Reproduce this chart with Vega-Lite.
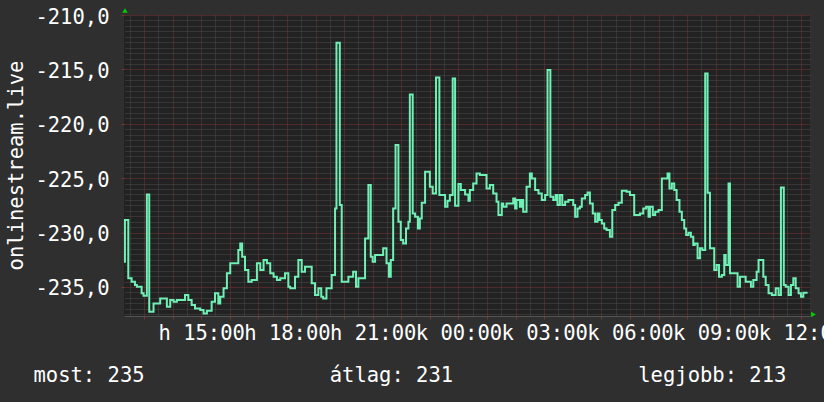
{
"$schema": "https://vega.github.io/schema/vega-lite/v6.json",
"width": 686, "height": 301,
"autosize": "none",
"padding": {"left": 124, "top": 15, "right": 14, "bottom": 86},
"background": "#2f2f2f",
"config": {"view": {"fill": "#222222", "stroke": null}, "font": "DejaVu Sans Mono"},
"datasets": {"d": [
{"t":"2024-01-01T12:18:00Z","v":-232.68},{"t":"2024-01-01T12:20:00Z","v":-228.85},{"t":"2024-01-01T12:27:00Z","v":-234.21},{"t":"2024-01-01T12:34:00Z","v":-234.52},{"t":"2024-01-01T12:41:00Z","v":-234.83},{"t":"2024-01-01T12:45:00Z","v":-234.98},{"t":"2024-01-01T12:55:00Z","v":-235.59},{"t":"2024-01-01T12:59:00Z","v":-235.81},{"t":"2024-01-01T13:06:00Z","v":-226.49},{"t":"2024-01-01T13:11:00Z","v":-237.28},{"t":"2024-01-01T13:20:00Z","v":-236.51},{"t":"2024-01-01T13:34:00Z","v":-236.05},{"t":"2024-01-01T13:48:00Z","v":-236.82},{"t":"2024-01-01T13:55:00Z","v":-236.20},{"t":"2024-01-01T14:02:00Z","v":-236.36},{"t":"2024-01-01T14:09:00Z","v":-236.20},{"t":"2024-01-01T14:26:00Z","v":-235.75},{"t":"2024-01-01T14:33:00Z","v":-236.20},{"t":"2024-01-01T14:40:00Z","v":-236.66},{"t":"2024-01-01T14:47:00Z","v":-236.97},{"t":"2024-01-01T14:58:00Z","v":-237.12},{"t":"2024-01-01T15:05:00Z","v":-237.43},{"t":"2024-01-01T15:12:00Z","v":-237.18},{"t":"2024-01-01T15:22:00Z","v":-236.36},{"t":"2024-01-01T15:29:00Z","v":-235.59},{"t":"2024-01-01T15:36:00Z","v":-236.51},{"t":"2024-01-01T15:40:00Z","v":-235.90},{"t":"2024-01-01T15:47:00Z","v":-235.13},{"t":"2024-01-01T15:54:00Z","v":-233.75},{"t":"2024-01-01T16:01:00Z","v":-232.83},{"t":"2024-01-01T16:18:00Z","v":-231.61},{"t":"2024-01-01T16:22:00Z","v":-231.00},{"t":"2024-01-01T16:26:00Z","v":-232.22},{"t":"2024-01-01T16:32:00Z","v":-233.45},{"t":"2024-01-01T16:39:00Z","v":-234.52},{"t":"2024-01-01T16:46:00Z","v":-234.37},{"t":"2024-01-01T16:57:00Z","v":-232.83},{"t":"2024-01-01T17:04:00Z","v":-233.45},{"t":"2024-01-01T17:11:00Z","v":-232.53},{"t":"2024-01-01T17:18:00Z","v":-232.83},{"t":"2024-01-01T17:25:00Z","v":-233.75},{"t":"2024-01-01T17:32:00Z","v":-234.06},{"t":"2024-01-01T17:39:00Z","v":-234.37},{"t":"2024-01-01T17:46:00Z","v":-234.21},{"t":"2024-01-01T17:56:00Z","v":-233.75},{"t":"2024-01-01T18:03:00Z","v":-234.98},{"t":"2024-01-01T18:07:00Z","v":-235.13},{"t":"2024-01-01T18:17:00Z","v":-234.06},{"t":"2024-01-01T18:24:00Z","v":-232.53},{"t":"2024-01-01T18:31:00Z","v":-233.60},{"t":"2024-01-01T18:38:00Z","v":-233.14},{"t":"2024-01-01T18:52:00Z","v":-234.67},{"t":"2024-01-01T18:59:00Z","v":-235.75},{"t":"2024-01-01T19:06:00Z","v":-235.13},{"t":"2024-01-01T19:12:00Z","v":-235.90},{"t":"2024-01-01T19:16:00Z","v":-236.05},{"t":"2024-01-01T19:23:00Z","v":-235.13},{"t":"2024-01-01T19:34:00Z","v":-233.91},{"t":"2024-01-01T19:41:00Z","v":-227.78},{"t":"2024-01-01T19:44:00Z","v":-212.55},{"t":"2024-01-01T19:51:00Z","v":-227.47},{"t":"2024-01-01T19:55:00Z","v":-234.52},{"t":"2024-01-01T20:09:00Z","v":-234.06},{"t":"2024-01-01T20:19:00Z","v":-233.60},{"t":"2024-01-01T20:25:00Z","v":-234.98},{"t":"2024-01-01T20:30:00Z","v":-234.21},{"t":"2024-01-01T20:44:00Z","v":-230.54},{"t":"2024-01-01T20:51:00Z","v":-225.63},{"t":"2024-01-01T20:56:00Z","v":-232.22},{"t":"2024-01-01T21:00:00Z","v":-232.68},{"t":"2024-01-01T21:05:00Z","v":-232.07},{"t":"2024-01-01T21:22:00Z","v":-231.45},{"t":"2024-01-01T21:29:00Z","v":-232.83},{"t":"2024-01-01T21:34:00Z","v":-234.06},{"t":"2024-01-01T21:38:00Z","v":-232.53},{"t":"2024-01-01T21:43:00Z","v":-227.78},{"t":"2024-01-01T21:48:00Z","v":-221.96},{"t":"2024-01-01T21:54:00Z","v":-229.00},{"t":"2024-01-01T21:59:00Z","v":-230.69},{"t":"2024-01-01T22:04:00Z","v":-231.00},{"t":"2024-01-01T22:10:00Z","v":-229.62},{"t":"2024-01-01T22:15:00Z","v":-229.00},{"t":"2024-01-01T22:18:00Z","v":-217.30},{"t":"2024-01-01T22:24:00Z","v":-228.24},{"t":"2024-01-01T22:29:00Z","v":-228.55},{"t":"2024-01-01T22:35:00Z","v":-229.62},{"t":"2024-01-01T22:39:00Z","v":-228.70},{"t":"2024-01-01T22:43:00Z","v":-227.26},{"t":"2024-01-01T22:50:00Z","v":-224.41},{"t":"2024-01-01T23:00:00Z","v":-225.79},{"t":"2024-01-01T23:06:00Z","v":-226.40},{"t":"2024-01-01T23:13:00Z","v":-215.74},{"t":"2024-01-01T23:20:00Z","v":-226.55},{"t":"2024-01-01T23:32:00Z","v":-227.63},{"t":"2024-01-01T23:37:00Z","v":-227.07},{"t":"2024-01-01T23:42:00Z","v":-226.55},{"t":"2024-01-01T23:48:00Z","v":-215.83},{"t":"2024-01-01T23:53:00Z","v":-227.53},
{"t":"2024-01-02T00:00:00Z","v":-225.54},{"t":"2024-01-02T00:05:00Z","v":-226.09},{"t":"2024-01-02T00:14:00Z","v":-226.50},{"t":"2024-01-02T00:21:00Z","v":-227.07},{"t":"2024-01-02T00:24:00Z","v":-226.09},{"t":"2024-01-02T00:31:00Z","v":-225.48},{"t":"2024-01-02T00:38:00Z","v":-224.56},{"t":"2024-01-02T00:45:00Z","v":-224.70},{"t":"2024-01-02T00:59:00Z","v":-225.94},{"t":"2024-01-02T01:06:00Z","v":-225.63},{"t":"2024-01-02T01:13:00Z","v":-226.40},{"t":"2024-01-02T01:20:00Z","v":-227.17},{"t":"2024-01-02T01:24:00Z","v":-228.39},{"t":"2024-01-02T01:31:00Z","v":-227.32},{"t":"2024-01-02T01:34:00Z","v":-227.63},{"t":"2024-01-02T01:41:00Z","v":-227.32},{"t":"2024-01-02T01:55:00Z","v":-226.86},{"t":"2024-01-02T01:59:00Z","v":-227.78},{"t":"2024-01-02T02:02:00Z","v":-227.01},{"t":"2024-01-02T02:09:00Z","v":-227.63},{"t":"2024-01-02T02:13:00Z","v":-227.01},{"t":"2024-01-02T02:16:00Z","v":-228.09},{"t":"2024-01-02T02:23:00Z","v":-225.79},{"t":"2024-01-02T02:30:00Z","v":-224.56},{"t":"2024-01-02T02:34:00Z","v":-225.02},{"t":"2024-01-02T02:41:00Z","v":-226.09},{"t":"2024-01-02T02:48:00Z","v":-226.40},{"t":"2024-01-02T02:55:00Z","v":-227.01},{"t":"2024-01-02T03:02:00Z","v":-226.55},{"t":"2024-01-02T03:07:00Z","v":-215.06},{"t":"2024-01-02T03:13:00Z","v":-226.71},{"t":"2024-01-02T03:19:00Z","v":-227.01},{"t":"2024-01-02T03:24:00Z","v":-226.55},{"t":"2024-01-02T03:28:00Z","v":-227.47},{"t":"2024-01-02T03:33:00Z","v":-226.55},{"t":"2024-01-02T03:38:00Z","v":-227.47},{"t":"2024-01-02T03:44:00Z","v":-227.17},{"t":"2024-01-02T03:51:00Z","v":-227.01},{"t":"2024-01-02T04:01:00Z","v":-227.47},{"t":"2024-01-02T04:05:00Z","v":-228.55},{"t":"2024-01-02T04:10:00Z","v":-227.78},{"t":"2024-01-02T04:15:00Z","v":-227.63},{"t":"2024-01-02T04:19:00Z","v":-226.86},{"t":"2024-01-02T04:26:00Z","v":-226.55},{"t":"2024-01-02T04:31:00Z","v":-226.31},{"t":"2024-01-02T04:36:00Z","v":-227.32},{"t":"2024-01-02T04:42:00Z","v":-228.24},{"t":"2024-01-02T04:47:00Z","v":-229.00},{"t":"2024-01-02T04:52:00Z","v":-228.24},{"t":"2024-01-02T04:56:00Z","v":-228.85},{"t":"2024-01-02T05:01:00Z","v":-229.16},{"t":"2024-01-02T05:06:00Z","v":-229.62},{"t":"2024-01-02T05:11:00Z","v":-229.77},{"t":"2024-01-02T05:18:00Z","v":-230.38},{"t":"2024-01-02T05:23:00Z","v":-227.93},{"t":"2024-01-02T05:29:00Z","v":-227.47},{"t":"2024-01-02T05:36:00Z","v":-227.26},{"t":"2024-01-02T05:43:00Z","v":-226.16},{"t":"2024-01-02T05:53:00Z","v":-226.25},{"t":"2024-01-02T06:00:00Z","v":-226.55},{"t":"2024-01-02T06:09:00Z","v":-228.39},{"t":"2024-01-02T06:21:00Z","v":-228.24},{"t":"2024-01-02T06:28:00Z","v":-227.78},{"t":"2024-01-02T06:34:00Z","v":-227.63},{"t":"2024-01-02T06:39:00Z","v":-228.55},{"t":"2024-01-02T06:42:00Z","v":-227.63},{"t":"2024-01-02T06:48:00Z","v":-228.39},{"t":"2024-01-02T06:53:00Z","v":-228.09},{"t":"2024-01-02T07:00:00Z","v":-227.93},{"t":"2024-01-02T07:07:00Z","v":-225.02},{"t":"2024-01-02T07:19:00Z","v":-224.56},{"t":"2024-01-02T07:23:00Z","v":-225.94},{"t":"2024-01-02T07:28:00Z","v":-225.48},{"t":"2024-01-02T07:33:00Z","v":-226.09},{"t":"2024-01-02T07:38:00Z","v":-227.01},{"t":"2024-01-02T07:44:00Z","v":-228.09},{"t":"2024-01-02T07:49:00Z","v":-228.85},{"t":"2024-01-02T07:54:00Z","v":-229.62},{"t":"2024-01-02T07:58:00Z","v":-230.23},{"t":"2024-01-02T08:03:00Z","v":-230.02},{"t":"2024-01-02T08:08:00Z","v":-230.38},{"t":"2024-01-02T08:13:00Z","v":-231.15},{"t":"2024-01-02T08:16:00Z","v":-231.00},{"t":"2024-01-02T08:22:00Z","v":-232.37},{"t":"2024-01-02T08:27:00Z","v":-231.45},{"t":"2024-01-02T08:32:00Z","v":-231.61},{"t":"2024-01-02T08:38:00Z","v":-215.37},{"t":"2024-01-02T08:43:00Z","v":-226.34},{"t":"2024-01-02T08:48:00Z","v":-231.45},{"t":"2024-01-02T08:57:00Z","v":-233.45},{"t":"2024-01-02T09:02:00Z","v":-232.99},{"t":"2024-01-02T09:07:00Z","v":-234.06},{"t":"2024-01-02T09:13:00Z","v":-233.91},{"t":"2024-01-02T09:18:00Z","v":-232.07},{"t":"2024-01-02T09:21:00Z","v":-232.99},{"t":"2024-01-02T09:27:00Z","v":-225.48},{"t":"2024-01-02T09:30:00Z","v":-233.75},{"t":"2024-01-02T09:46:00Z","v":-234.98},{"t":"2024-01-02T09:51:00Z","v":-234.06},{"t":"2024-01-02T10:03:00Z","v":-234.52},{"t":"2024-01-02T10:14:00Z","v":-234.98},{"t":"2024-01-02T10:19:00Z","v":-234.37},{"t":"2024-01-02T10:26:00Z","v":-233.60},{"t":"2024-01-02T10:30:00Z","v":-232.53},{"t":"2024-01-02T10:40:00Z","v":-234.06},{"t":"2024-01-02T10:45:00Z","v":-234.83},{"t":"2024-01-02T10:51:00Z","v":-235.59},{"t":"2024-01-02T10:58:00Z","v":-235.75},{"t":"2024-01-02T11:06:00Z","v":-235.13},{"t":"2024-01-02T11:12:00Z","v":-235.75},{"t":"2024-01-02T11:17:00Z","v":-225.85},{"t":"2024-01-02T11:23:00Z","v":-234.83},{"t":"2024-01-02T11:27:00Z","v":-234.98},{"t":"2024-01-02T11:33:00Z","v":-235.75},{"t":"2024-01-02T11:38:00Z","v":-234.83},{"t":"2024-01-02T11:43:00Z","v":-234.21},{"t":"2024-01-02T11:48:00Z","v":-235.13},{"t":"2024-01-02T11:54:00Z","v":-235.59},{"t":"2024-01-02T11:59:00Z","v":-235.90},{"t":"2024-01-02T12:04:00Z","v":-235.53},{"t":"2024-01-02T12:13:00Z","v":-235.53}
]},
"resolve": {"axis": {"x": "independent", "y": "independent"}},
"layer": [
{
"data": {"name": "d"},
"mark": {"type": "line", "interpolate": "step-after", "strokeWidth": 2, "opacity": 0},
"encoding": {
"x": {"field": "t", "type": "temporal",
 "scale": {"type": "utc", "domain": [1704111480000, 1704197880000], "nice": false},
 "axis": {"orient": "top", "values": [1704112200000,1704115800000,1704119400000,1704123000000,1704126600000,1704130200000,1704133800000,1704137400000,1704141000000,1704144600000,1704148200000,1704151800000,1704155400000,1704159000000,1704162600000,1704166200000,1704169800000,1704173400000,1704177000000,1704180600000,1704184200000,1704187800000,1704191400000,1704195000000],
  "grid": true, "gridColor": "#4a4a4a", "gridDash": [1, 1], "gridWidth": 1,
  "ticks": false, "labels": false, "domain": false, "title": null}},
"y": {"field": "v", "type": "quantitative",
 "scale": {"domain": [-237.67, -210], "nice": false, "zero": false},
 "axis": {"orient": "right", "values": [-237.5,-237,-236.5,-236,-235.5,-234.5,-234,-233.5,-233,-232.5,-232,-231.5,-231,-230.5,-229.5,-229,-228.5,-228,-227.5,-227,-226.5,-226,-225.5,-224.5,-224,-223.5,-223,-222.5,-222,-221.5,-221,-220.5,-219.5,-219,-218.5,-218,-217.5,-217,-216.5,-216,-215.5,-214.5,-214,-213.5,-213,-212.5,-212,-211.5,-211,-210.5],
  "grid": true, "gridColor": "#4a4a4a", "gridDash": [1, 1], "gridWidth": 1,
  "ticks": false, "labels": false, "domain": false, "title": null}}
}
},
{
"data": {"name": "d"},
"mark": {"type": "line", "interpolate": "step-after", "strokeWidth": 2, "color": "#6ff0b4"},
"encoding": {
"x": {"field": "t", "type": "temporal",
 "axis": {"orient": "bottom",
  "values": [1704114000000,1704117600000,1704121200000,1704124800000,1704128400000,1704132000000,1704135600000,1704139200000,1704142800000,1704146400000,1704150000000,1704153600000,1704157200000,1704160800000,1704164400000,1704168000000,1704171600000,1704175200000,1704178800000,1704182400000,1704186000000,1704189600000,1704193200000,1704196800000],
  "grid": true, "gridColor": "#7a3434", "gridDash": [1, 1], "gridWidth": 1,
  "ticks": true, "tickSize": 3, "tickColor": "#7a3434",
  "domain": true, "domainColor": "#555555",
  "labelExpr": "utchours(datum.value) % 3 == 0 ? (utcdate(datum.value) == 1 ? 'h ' : 'k ') + utcFormat(datum.value, '%H:%M') : ''",
  "labelOverlap": false, "labelFlush": false, "labelBound": false, "labelAngle": 0,
  "labelBaseline": "top", "labelPadding": 4,
  "labelColor": "#ffffff", "labelFont": "DejaVu Sans Mono", "labelFontSize": 20.5,
  "title": "most: 235\u00a0\u00a0\u00a0\u00a0\u00a0\u00a0\u00a0\u00a0\u00a0\u00a0\u00a0\u00a0\u00a0\u00a0\u00a0átlag: 231\u00a0\u00a0\u00a0\u00a0\u00a0\u00a0\u00a0\u00a0\u00a0\u00a0\u00a0\u00a0\u00a0\u00a0\u00a0legjobb: 213",
  "titleX": -91, "titleY": 65, "titleAlign": "left", "titleBaseline": "alphabetic",
  "titleFont": "DejaVu Sans Mono", "titleFontSize": 20.5, "titleFontWeight": "normal", "titleColor": "#ffffff"
 }},
"y": {"field": "v", "type": "quantitative",
 "axis": {"orient": "left",
  "values": [-235, -230, -225, -220, -215, -210],
  "grid": true, "gridColor": "#7a3434", "gridDash": [1, 1], "gridWidth": 1,
  "ticks": true, "tickSize": 3, "tickColor": "#7a3434",
  "domain": false,
  "labelExpr": "'-' + replace(format(abs(datum.value), '.1f'), '.', ',')",
  "labelOverlap": false, "labelFlush": false, "labelBound": false,
  "labelBaseline": "alphabetic", "labelOffset": 8, "labelPadding": 12,
  "labelColor": "#ffffff", "labelFont": "DejaVu Sans Mono", "labelFontSize": 20.5,
  "title": "onlinestream.live",
  "titleX": -102, "titleY": 150, "titleAngle": 270, "titleAlign": "center", "titleBaseline": "alphabetic",
  "titleFont": "DejaVu Sans Mono", "titleFontSize": 20.5, "titleFontWeight": "normal", "titleColor": "#ffffff"
 }}
}
},
{
"data": {"values": [{}]},
"mark": {"type": "point", "shape": "triangle-up", "filled": true, "color": "#00d000", "opacity": 1, "size": 30, "xOffset": 1, "yOffset": -4.5},
"encoding": {"x": {"datum": 1704111480000, "type": "temporal", "axis": null}, "y": {"datum": -210, "type": "quantitative", "axis": null}}
},
{
"data": {"values": [{}]},
"mark": {"type": "point", "shape": "triangle-right", "filled": true, "color": "#00d000", "opacity": 1, "size": 30, "xOffset": 3.5, "yOffset": -1.5},
"encoding": {"x": {"datum": 1704197880000, "type": "temporal", "axis": null}, "y": {"datum": -237.67, "type": "quantitative", "axis": null}}
}
]
}
